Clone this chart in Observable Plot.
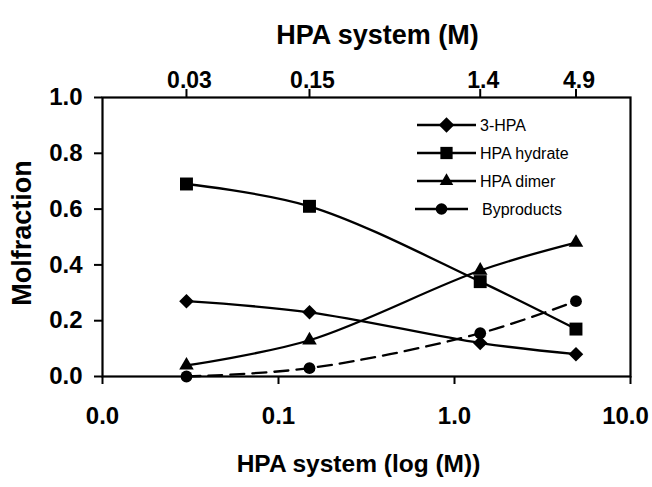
<!DOCTYPE html>
<html>
<head>
<meta charset="utf-8">
<script src="https://cdn.jsdelivr.net/npm/d3@7"></script>
<script src="https://cdn.jsdelivr.net/npm/@observablehq/plot@0.6"></script>
<style>
  html, body { margin: 0; padding: 0; background: #fff; }
  #wrap { position: relative; width: 652px; height: 487px; }
  #legend { position: absolute; left: 0; top: 0; }
</style>
</head>
<body>
<div id="wrap"></div>
<script>
// ---- data ----
const concentrations = [0.03, 0.15, 1.4, 4.9];
const seriesNames = ["3-HPA", "HPA hydrate", "HPA dimer", "Byproducts"];
const hpa3 = [0.27, 0.23, 0.12, 0.08];
const hydrate = [0.69, 0.61, 0.34, 0.17];
const dimer = [0.04, 0.13, 0.38, 0.48];
const byproducts = [0.00, 0.03, 0.155, 0.27];
const bottomTicks = [0.01, 0.1, 1, 10];
const bottomTickLabels = ["0.0", "0.1", "1.0", "10.0"];
const topTickLabels = ["0.03", "0.15", "1.4", "4.9"];
const yTicks = [0, 0.2, 0.4, 0.6, 0.8, 1.0];
const topTitle = "HPA system (M)";
const bottomTitle = "HPA system (log (M))";
const yTitle = "Molfraction";

// ---- build table ----
const valuesBySeries = [hpa3, hydrate, dimer, byproducts];
const rows = [];
seriesNames.forEach((s, i) => concentrations.forEach((c, j) => rows.push({series: s, x: c, y: valuesBySeries[i][j]})));
const topLabelRows = concentrations.map((c, i) => ({x: c, label: topTickLabels[i]}));
const bottomLabelRows = bottomTicks.map((c, i) => ({x: c, label: bottomTickLabels[i]}));
const bottomInner = bottomLabelRows.slice(0, -1);
const bottomLast = bottomLabelRows.slice(-1);

const diamond = {draw(ctx, size) { const r = Math.sqrt(size / 2); ctx.moveTo(0, -r); ctx.lineTo(r, 0); ctx.lineTo(0, r); ctx.lineTo(-r, 0); ctx.closePath(); }};
const symbolFor = {"3-HPA": diamond, "HPA hydrate": "square", "HPA dimer": "triangle", "Byproducts": "circle"};
const rFor = {"3-HPA": 5.8, "HPA hydrate": 7.3, "HPA dimer": 5.4, "Byproducts": 5.9};

const font = "'Liberation Sans', Arial, Helvetica, sans-serif";
const marks = [];
seriesNames.forEach(s => {
  const d = rows.filter(r => r.series === s);
  marks.push(Plot.line(d, {x: "x", y: "y", curve: "catmull-rom", stroke: "#000", strokeWidth: 2.3,
    strokeDasharray: s === "Byproducts" ? "14,8" : null}));
  marks.push(Plot.dot(d, {x: "x", y: "y", symbol: () => symbolFor[s], r: rFor[s], fill: "#000", stroke: "none"}));
});

const tickText = {text: "label", frameAnchor: "bottom", lineAnchor: "top", dy: 30, fontSize: 24, fontWeight: "bold", fill: "#000"};

const chart = Plot.plot({
  width: 652,
  height: 487,
  marginLeft: 102,
  marginRight: 22,
  marginTop: 97,
  marginBottom: 111,
  style: {fontFamily: font, background: "#fff", color: "#000"},
  x: {type: "log", domain: [0.01, 10]},
  y: {domain: [0, 1]},
  symbol: {type: "identity"},
  marks: [
    Plot.axisY({ticks: yTicks, tickFormat: d => d.toFixed(1), tickSize: 8, tickPadding: 12, fontSize: 24, fontWeight: "bold", strokeWidth: 2, label: null}),
    Plot.axisX({anchor: "bottom", ticks: bottomTicks, text: null, tickSize: 8, strokeWidth: 2, label: null}),
    Plot.text(bottomInner, {x: "x", ...tickText}),
    Plot.text(bottomLast, {x: "x", ...tickText, dx: -5}),
    Plot.axisX({anchor: "top", ticks: concentrations, text: null, tickSize: 9, strokeWidth: 2, label: null}),
    Plot.text(topLabelRows, {x: "x", text: "label", frameAnchor: "top", lineAnchor: "bottom", dy: -10, dx: 3, fontSize: 23, fontWeight: "bold", fill: "#000"}),
    ...marks,
    Plot.frame({stroke: "#000", strokeWidth: 2.2}),
    Plot.text([topTitle], {frameAnchor: "top", dx: 11, dy: -73, fontSize: 27, fontWeight: "bold", fill: "#000"}),
    Plot.text([bottomTitle], {frameAnchor: "bottom", dx: -8, dy: 95, fontSize: 24.5, fontWeight: "bold", fill: "#000"}),
    Plot.text([yTitle], {frameAnchor: "left", textAnchor: "middle", dx: -80, dy: -4, rotate: -90, fontSize: 27, fontWeight: "bold", fill: "#000"})
  ]
});

const wrap = document.getElementById("wrap");
wrap.appendChild(chart);

// ---- legend overlay ----
const NS = "http://www.w3.org/2000/svg";
const leg = document.createElementNS(NS, "svg");
leg.setAttribute("id", "legend");
leg.setAttribute("width", 652);
leg.setAttribute("height", 487);
const legendRowsY = [125, 153, 181, 209];
const legSym = {"3-HPA": d3.symbol(diamond, 120), "HPA hydrate": d3.symbol(d3.symbolSquare, 150), "HPA dimer": d3.symbol(d3.symbolTriangle, 80), "Byproducts": d3.symbol(d3.symbolCircle, 105)};
seriesNames.forEach((s, i) => {
  const y = legendRowsY[i];
  const x0 = s === "Byproducts" ? 415 : 417, x1 = s === "Byproducts" ? 468 : 476, xm = (x0 + x1) / 2;
  const ln = document.createElementNS(NS, "line");
  ln.setAttribute("x1", x0); ln.setAttribute("x2", x1); ln.setAttribute("y1", y); ln.setAttribute("y2", y);
  ln.setAttribute("stroke", "#000"); ln.setAttribute("stroke-width", 2.3);
  leg.appendChild(ln);
  const p = document.createElementNS(NS, "path");
  p.setAttribute("d", legSym[s]());
  p.setAttribute("transform", `translate(${xm},${y})`);
  p.setAttribute("fill", "#000");
  leg.appendChild(p);
  const t = document.createElementNS(NS, "text");
  t.setAttribute("x", s === "Byproducts" ? 482 : 480);
  t.setAttribute("y", y);
  t.setAttribute("dy", "0.35em");
  t.setAttribute("font-family", font);
  t.setAttribute("font-size", 16);
  t.setAttribute("fill", "#000");
  t.textContent = s;
  leg.appendChild(t);
});
wrap.appendChild(leg);
</script>
</body>
</html>
